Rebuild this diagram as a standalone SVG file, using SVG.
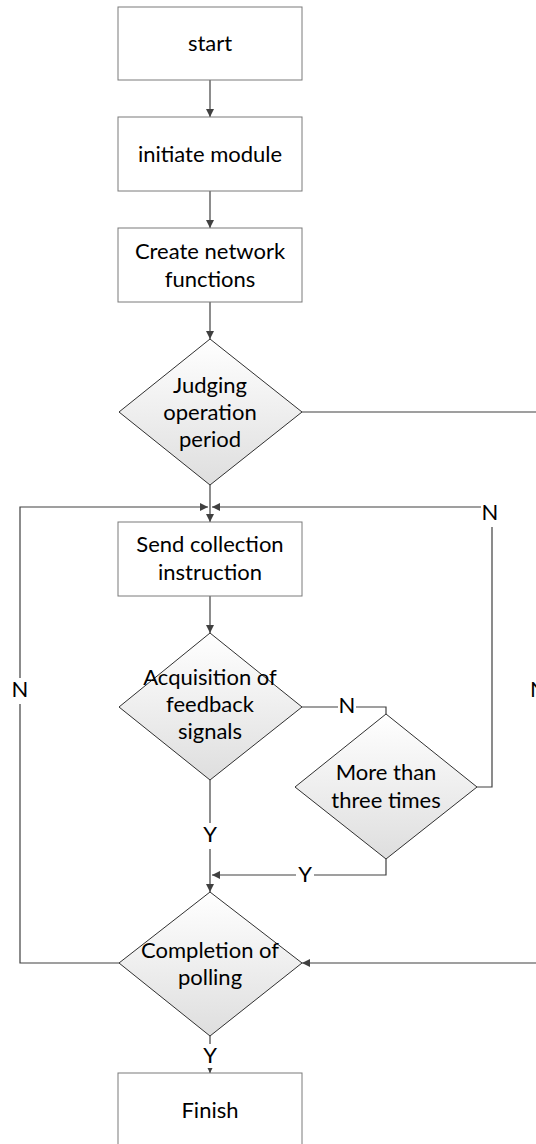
<svg xmlns="http://www.w3.org/2000/svg" width="536" height="1144" viewBox="0 0 536 1144">
<style>
.box{fill:#fff;stroke:#7a7a7a;stroke-width:1}
.dia{fill:url(#g);stroke:#303030;stroke-width:1}
.t{font-family:Lato,"Liberation Sans",sans-serif;font-size:22px;fill:#000;text-anchor:middle}
.c{fill:none;stroke:#404040;stroke-width:1.2}
.a{fill:none;stroke:#404040;stroke-width:1.2;marker-end:url(#ah)}
.lb{fill:#fff;stroke:none}
</style>
<defs>
<linearGradient id="g" x1="0" y1="0" x2="0" y2="1">
<stop offset="0" stop-color="#ffffff"/>
<stop offset="1" stop-color="#dedede"/>
</linearGradient>
<marker id="ah" viewBox="0 0 10 10" refX="10" refY="5" markerWidth="8" markerHeight="8" markerUnits="userSpaceOnUse" orient="auto">
<path d="M0,0 L10,5 L0,10 z" fill="#404040"/>
</marker>
</defs>
<g id="connectors">
<line class="a" x1="210" y1="80" x2="210" y2="117"/>
<line class="a" x1="210" y1="191" x2="210" y2="228"/>
<line class="a" x1="210" y1="302" x2="210" y2="339"/>
<line class="c" x1="302" y1="412" x2="540" y2="412"/>
<line class="a" x1="210" y1="485" x2="210" y2="522"/>
<polyline class="a" points="119,963 20,963 20,507 208,507"/>
<polyline class="a" points="477,787 492,787 492,507 212,507"/>
<line class="a" x1="210" y1="596" x2="210" y2="633"/>
<polyline class="c" points="302,707 386,707 386,714"/>
<polyline class="a" points="386,859 386,875 212,875"/>
<line class="a" x1="210" y1="780" x2="210" y2="892"/>
<line class="a" x1="540" y1="963" x2="302" y2="963"/>
<line class="a" x1="210" y1="1036" x2="210" y2="1073"/>
</g>
<g id="labels">
<rect class="lb" x="11" y="678" width="18" height="26"/>
<text class="t" x="20" y="697">N</text>
<rect class="lb" x="481" y="503" width="18" height="24"/>
<text class="t" x="490" y="520">N</text>
<rect class="lb" x="338" y="696" width="18" height="22"/>
<text class="t" x="347" y="713">N</text>
<rect class="lb" x="201" y="823" width="18" height="26"/>
<text class="t" x="210" y="842">Y</text>
<rect class="lb" x="296" y="865" width="18" height="22"/>
<text class="t" x="305" y="882">Y</text>
<rect class="lb" x="201" y="1044" width="18" height="24"/>
<text class="t" x="210" y="1063">Y</text>
<text class="t" x="530" y="697" style="text-anchor:start">N</text>
</g>
<g id="start">
<rect class="box" x="118" y="7" width="184" height="73"/>
<text class="t" x="210" y="51">start</text>
</g>
<g id="init">
<rect class="box" x="118" y="117" width="184" height="74"/>
<text class="t" x="210" y="162">initiate module</text>
</g>
<g id="create">
<rect class="box" x="118" y="228" width="184" height="74"/>
<text class="t" x="210" y="259">Create network</text>
<text class="t" x="210" y="287">functions</text>
</g>
<g id="judge">
<polygon class="dia" points="210,339 302,412 210,485 119,412"/>
<text class="t" x="210" y="393">Judging</text>
<text class="t" x="210" y="420">operation</text>
<text class="t" x="210" y="447">period</text>
</g>
<g id="send">
<rect class="box" x="118" y="522" width="184" height="74"/>
<text class="t" x="210" y="552">Send collection</text>
<text class="t" x="210" y="580">instruction</text>
</g>
<g id="acq">
<polygon class="dia" points="210,633 302,707 210,780 119,707"/>
<text class="t" x="210" y="685">Acquisition of</text>
<text class="t" x="210" y="712">feedback</text>
<text class="t" x="210" y="739">signals</text>
</g>
<g id="more">
<polygon class="dia" points="386,714 477,787 386,859 295,787"/>
<text class="t" x="386" y="780">More than</text>
<text class="t" x="386" y="808">three times</text>
</g>
<g id="complete">
<polygon class="dia" points="210,892 302,963 210,1036 119,963"/>
<text class="t" x="210" y="958">Completion of</text>
<text class="t" x="210" y="985">polling</text>
</g>
<g id="finish">
<rect class="box" x="118" y="1073" width="184" height="80"/>
<text class="t" x="210" y="1118">Finish</text>
</g>
</svg>
